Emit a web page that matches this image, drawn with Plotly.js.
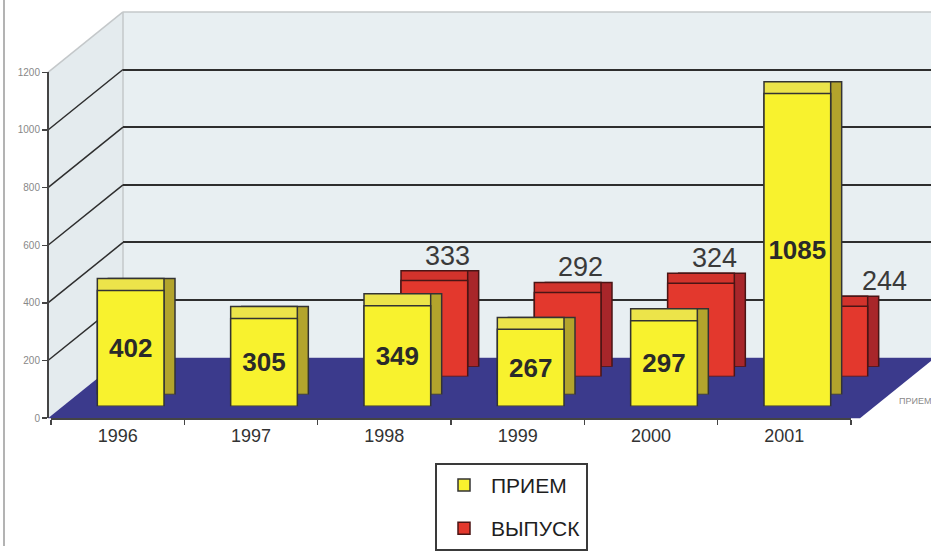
<!DOCTYPE html>
<html>
<head>
<meta charset="utf-8">
<script src="https://cdn.plot.ly/plotly-3.0.1.min.js"></script>
<style>html,body{margin:0;padding:0;background:#fff;}#chart{width:931px;height:551px;}</style>
</head>
<body>
<div id="chart"></div>
<script>
// ---- data ----
const categories = ['1996', '1997', '1998', '1999', '2000', '2001'];
const priem = [402, 305, 349, 267, 297, 1085];        // ПРИЕМ
const vypusk = [null, null, 333, 292, 324, 244];     // ВЫПУСК
const seriesNames = ['ПРИЕМ', 'ВЫПУСК'];
const yTicks = [0, 200, 400, 600, 800, 1000, 1200];

// ---- geometry (pixels) ----
const W = 931, H = 551;
const X0 = 51, X1 = 851, Y0 = 422, YTOP = 73;  // front plane
const YMAX = 1200;
const BACK = {dx: 75, dy: -61};
const FONT = 'Arial, "Liberation Sans", sans-serif';

function dom(dx, dy) {
  return {x: [(X0 + dx) / W, (X1 + dx) / W], y: [(H - (Y0 + dy)) / H, (H - (YTOP + dy)) / H]};
}
const px = v => v / W, py = v => (H - v) / H;
function yPix(v, dy) { return Y0 + dy - (v / YMAX) * (Y0 - YTOP); }

const layers = [
  {id: 2, dx: 61, dy: -52, data: vypusk, color: '#a8262a', line: '#4a1515'},   // red side
  {id: 3, dx: 50, dy: -52, data: vypusk, color: '#d2332c', line: '#4a1515'},   // red top
  {id: 4, dx: 50, dy: -42, data: vypusk, color: '#e3382d', line: '#4a1515', front: 'red'},
  {id: 5, dx: 24, dy: -24, data: priem, color: '#b3a42c', line: '#333'},      // yellow side
  {id: 6, dx: 13, dy: -24, data: priem, color: '#ece44a', line: '#333'},      // yellow top
  {id: 7, dx: 13, dy: -12, data: priem, color: '#f8f22e', line: '#333', front: 'yellow'}
];

const layout = {
  width: W, height: H,
  margin: {l: 0, r: 0, t: 0, b: 0},
  paper_bgcolor: '#ffffff',
  plot_bgcolor: 'rgba(0,0,0,0)',
  bargap: 0.5,
  showlegend: true,
  legend: {
    x: px(435), y: py(467), xanchor: 'left', yanchor: 'top',
    bgcolor: '#ffffff', bordercolor: '#3a3a3a', borderwidth: 2,
    font: {family: FONT, size: 21, color: '#1e1e1e'},
    traceorder: 'grouped', tracegroupgap: 13, itemwidth: 44
  },
  shapes: [], annotations: []
};

// back wall grid (subplot x/y)
const bd = dom(BACK.dx, BACK.dy);
layout.xaxis = {domain: [px(123), 1], range: [0, 1], visible: false, fixedrange: true};
layout.yaxis = {domain: bd.y, range: [0, YMAX], tickvals: yTicks.slice(1, -1), showgrid: true,
  gridcolor: '#2e2e2e', gridwidth: 2, showticklabels: false, ticks: '', zeroline: false,
  showline: false, fixedrange: true};

const traces = [{type: 'scatter', x: [], y: [], xaxis: 'x', yaxis: 'y', showlegend: false, hoverinfo: 'skip'}];

layers.forEach(L => {
  const d = dom(L.dx, L.dy);
  layout['xaxis' + L.id] = {domain: d.x, type: 'category', categoryorder: 'array', categoryarray: categories,
    range: [-0.5, categories.length - 0.5], visible: false, anchor: 'y' + L.id, fixedrange: true};
  layout['yaxis' + L.id] = {domain: d.y, range: [0, YMAX], visible: false, anchor: 'x' + L.id, fixedrange: true};
  const t = {type: 'bar', x: categories, y: L.data, xaxis: 'x' + L.id, yaxis: 'y' + L.id,
    marker: {color: L.color, line: {color: L.line, width: 1.5}}, hoverinfo: 'skip', showlegend: false};
  if (L.front === 'yellow') {
    Object.assign(t, {name: seriesNames[0], showlegend: true, legendgroup: 'a', legendrank: 1,
      text: L.data.map(String), texttemplate: '<b>%{text}</b>', textposition: 'inside',
      insidetextanchor: 'middle', constraintext: 'none', textangle: 0,
      textfont: {family: FONT, size: 26, color: '#2a2a2a'}});
  }
  if (L.front === 'red') {
    Object.assign(t, {name: seriesNames[1], showlegend: true, legendgroup: 'b', legendrank: 2});
    L.data.forEach((v, i) => {
      if (v === null) return;
      // label moved to the right when the front (ПРИЕМ) bar would hide it
      const hidden = priem[i] > v + 200;
      layout.annotations.push({x: i, y: v, xref: 'x' + L.id, yref: 'y' + L.id,
        text: String(v), showarrow: false, yanchor: 'bottom', yshift: 8, xshift: hidden ? 50 : 13,
        font: {family: FONT, size: 27, color: '#3a3a3a'}});
    });
  }
  traces.push(t);
});

// front axes (ticks & labels)
layout.xaxis8 = {domain: [px(X0), px(X1)], range: [-0.5, categories.length - 0.5], anchor: 'y8',
  tickvals: categories.map((c, i) => i), ticktext: categories, ticks: '',
  minor: {tick0: 0.5, dtick: 1, ticks: 'outside', ticklen: 5, tickcolor: '#444', tickwidth: 1.5, showgrid: false},
  showline: true, linecolor: '#444', linewidth: 2, showgrid: false, zeroline: false,
  tickfont: {family: FONT, size: 18, color: '#333'}, fixedrange: true};
layout.yaxis8 = {domain: dom(0, 0).y, range: [0, YMAX], anchor: 'free', position: px(48),
  tickvals: yTicks, ticks: 'outside', ticklen: 5, tickcolor: '#444', tickwidth: 1.5,
  showline: true, linecolor: '#444', linewidth: 2, showgrid: false, zeroline: false,
  tickfont: {family: FONT, size: 10, color: '#888'}, fixedrange: true};
traces.push({type: 'scatter', x: [], y: [], xaxis: 'x8', yaxis: 'y8', showlegend: false, hoverinfo: 'skip'});

// walls and floor (decor)
const wallBack = `M${px(123)},${py(12)} L1,${py(12)} L1,${py(361)} L${px(123)},${py(361)} Z`;
const wallLeft = `M${px(48)},${py(73)} L${px(123)},${py(12)} L${px(123)},${py(361)} L${px(48)},${py(422)} Z`;
const floor = `M${px(48)},${py(422)} L${px(860)},${py(422)} L${px(935)},${py(361)} L${px(123)},${py(361)} Z`;
layout.shapes.push(
  {type: 'path', path: wallBack, xref: 'paper', yref: 'paper', fillcolor: '#e8eff2', line: {width: 0}, layer: 'below'},
  {type: 'path', path: wallLeft, xref: 'paper', yref: 'paper', fillcolor: '#e4ebee', line: {width: 0}, layer: 'below'},
  {type: 'path', path: floor, xref: 'paper', yref: 'paper', fillcolor: '#3b3a8c', line: {width: 0}, layer: 'below'},
  {type: 'line', xref: 'paper', yref: 'paper', x0: px(123), y0: py(12), x1: 1, y1: py(12), line: {color: '#c4c8ca', width: 1.5}, layer: 'below'},
  {type: 'line', xref: 'paper', yref: 'paper', x0: px(123), y0: py(12), x1: px(123), y1: py(361), line: {color: '#c4c8ca', width: 1.5}, layer: 'below'},
  {type: 'line', xref: 'paper', yref: 'paper', x0: px(48), y0: py(73), x1: px(123), y1: py(12), line: {color: '#c4c8ca', width: 1.5}, layer: 'below'},
  {type: 'line', xref: 'paper', yref: 'paper', x0: px(4), y0: 0, x1: px(4), y1: 1, line: {color: '#9a9a9a', width: 1.5}, layer: 'above'}
);
yTicks.slice(1, -1).forEach(v => {
  layout.shapes.push({type: 'line', xref: 'paper', yref: 'paper',
    x0: px(48), y0: py(yPix(v, 0)), x1: px(123), y1: py(yPix(v, BACK.dy)),
    line: {color: '#2e2e2e', width: 1.5}, layer: 'below'});
});
layout.annotations.push({xref: 'paper', yref: 'paper', x: px(897), y: py(405), xanchor: 'left', yanchor: 'middle',
  text: seriesNames[0], showarrow: false, font: {family: FONT, size: 9, color: '#8a8a8a'}});

Plotly.newPlot('chart', traces, layout, {staticPlot: true, displayModeBar: false});
</script>
</body>
</html>
